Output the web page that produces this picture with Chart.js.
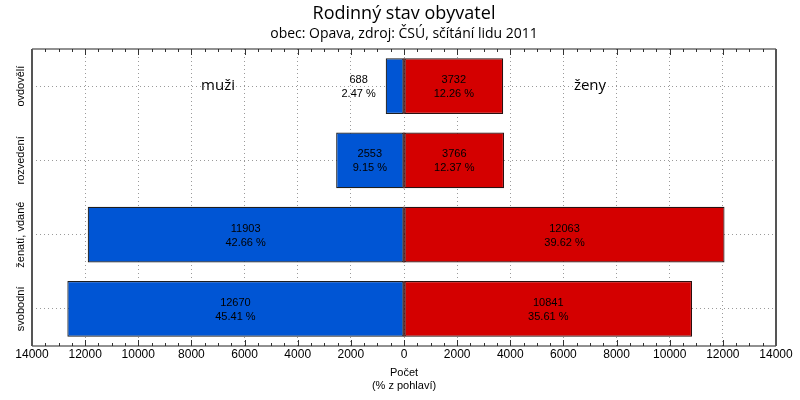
<!DOCTYPE html>
<html>
<head>
<meta charset="utf-8">
<script src="https://cdn.jsdelivr.net/npm/chart.js@4.4.0/dist/chart.umd.min.js"></script>
<style>
  body { margin: 0; background: #fff; }
  #wrap { width: 800px; height: 400px; position: relative; }
</style>
</head>
<body>
<div id="wrap"><canvas id="chart"></canvas></div>
<script>
// data
const categories = ['ovdovělí', 'rozvedení', 'ženatí, vdané', 'svobodní'];
const maleCounts = [688, 2553, 11903, 12670];
const femaleCounts = [3732, 3766, 12063, 10841];
const malePercent = ['2.47', '9.15', '42.66', '45.41'];
const femalePercent = ['12.26', '12.37', '39.62', '35.61'];
const sideLabels = ['muži', 'ženy'];
const sideLabelValues = [-7000, 7000];

const xMin = -14000, xMax = 14000, xStep = 2000, xMinorStep = 500;

const labelFont = '11px "Liberation Sans", Arial, sans-serif';

// titles, frame, inward ticks, category labels and bar values
const decorPlugin = {
    id: 'decor',
    afterDatasetsDraw(chart) {
        const { ctx, chartArea: a, scales: { x, y } } = chart;
        ctx.save();

        // dark seam where the two bars meet at zero
        const zero = x.getPixelForValue(0);
        ctx.strokeStyle = '#3a0a0a';
        ctx.lineWidth = 1.5;
        chart.getDatasetMeta(1).data.forEach(bar => {
            ctx.beginPath();
            ctx.moveTo(zero, bar.y - bar.height / 2);
            ctx.lineTo(zero, bar.y + bar.height / 2);
            ctx.stroke();
        });

        // inward tick marks on top and bottom
        ctx.strokeStyle = '#333';
        ctx.lineWidth = 1;
        for (let v = xMin; v <= xMax; v += xMinorStep) {
            const px = Math.round(x.getPixelForValue(v)) + 0.5;
            const len = v % xStep === 0 ? 6 : 3;
            ctx.beginPath();
            ctx.moveTo(px, a.bottom);
            ctx.lineTo(px, a.bottom - len);
            ctx.moveTo(px, a.top);
            ctx.lineTo(px, a.top + len);
            ctx.stroke();
        }

        // frame
        ctx.strokeStyle = '#222';
        ctx.lineWidth = 1.2;
        ctx.beginPath();
        ctx.moveTo(a.left, a.top); ctx.lineTo(a.right, a.top);
        ctx.moveTo(a.left, a.bottom); ctx.lineTo(a.right, a.bottom);
        ctx.stroke();
        ctx.strokeStyle = '#555';
        ctx.lineWidth = 2;
        ctx.beginPath();
        ctx.moveTo(a.left, a.top); ctx.lineTo(a.left, a.bottom);
        ctx.moveTo(a.right, a.top); ctx.lineTo(a.right, a.bottom);
        ctx.stroke();

        // bar value labels
        ctx.font = labelFont;
        ctx.fillStyle = '#000';
        ctx.textAlign = 'center';
        ctx.textBaseline = 'middle';
        const drawLabels = (dsIndex, counts, perc) => {
            chart.getDatasetMeta(dsIndex).data.forEach((bar, i) => {
                const l1 = String(counts[i]);
                const l2 = perc[i] + ' %';
                const w = Math.max(ctx.measureText(l1).width, ctx.measureText(l2).width);
                const barW = Math.abs(bar.x - bar.base);
                let cx = (bar.x + bar.base) / 2;
                if (barW < w + 8) {
                    cx = bar.x < bar.base ? bar.x - 10 - w / 2 : bar.x + 10 + w / 2;
                }
                ctx.fillText(l1, cx, bar.y - 6);
                ctx.fillText(l2, cx, bar.y + 8);
            });
        };
        drawLabels(0, maleCounts, malePercent);
        drawLabels(1, femaleCounts, femalePercent);

        // side labels
        ctx.font = '15px "Open Sans", sans-serif';
        sideLabels.forEach((t, i) => {
            ctx.fillText(t, x.getPixelForValue(sideLabelValues[i]), y.getPixelForValue(0));
        });

        // category labels, rotated
        ctx.font = labelFont;
        categories.forEach((c, i) => {
            ctx.save();
            ctx.translate(21, y.getPixelForValue(i));
            ctx.rotate(-Math.PI / 2);
            ctx.fillText(c, 0, 0);
            ctx.restore();
        });

        // titles
        const cx = (a.left + a.right) / 2;
        ctx.font = '18px "Open Sans", sans-serif';
        ctx.fillText('Rodinný stav obyvatel', cx, 14);
        ctx.font = '14px "Open Sans", sans-serif';
        ctx.fillText('obec: Opava, zdroj: ČSÚ, sčítání lidu 2011', cx, 34);

        ctx.restore();
    }
};

new Chart(document.getElementById('chart'), {
    type: 'bar',
    data: {
        labels: categories,
        datasets: [{
            label: 'muži',
            data: maleCounts.map(v => -v),
            backgroundColor: '#0055d4',
            borderColor: '#1e1e1e',
            borderWidth: 1.2,
            borderSkipped: false
        }, {
            label: 'ženy',
            data: femaleCounts,
            backgroundColor: '#d40000',
            borderColor: '#2a1010',
            borderWidth: 1.2,
            borderSkipped: false
        }]
    },
    options: {
        indexAxis: 'y',
        responsive: true,
        maintainAspectRatio: false,
        animation: false,
        layout: { padding: { top: 49, right: 24, left: 0, bottom: 0 } },
        plugins: {
            legend: { display: false },
            tooltip: { enabled: false }
        },
        datasets: {
            bar: { barPercentage: 0.75, categoryPercentage: 1 }
        },
        scales: {
            x: {
                stacked: true,
                min: xMin,
                max: xMax,
                grid: { color: '#9a9a9a', drawTicks: false },
                border: { display: false, dash: [1, 3] },
                ticks: {
                    stepSize: xStep,
                    padding: 1,
                    color: '#000',
                    font: { family: '"Liberation Sans", Arial, sans-serif', size: 12 },
                    maxRotation: 0,
                    callback: v => Math.abs(v)
                },
                title: {
                    display: true,
                    text: ['Počet', '(% z pohlaví)'],
                    color: '#000',
                    font: { family: '"Liberation Sans", Arial, sans-serif', size: 11, lineHeight: 1.2 },
                    padding: { top: 0, bottom: 7 }
                },
                afterFit: s => { s.height = 54; }
            },
            y: {
                stacked: true,
                grid: { color: '#9a9a9a', drawTicks: false, offset: false },
                border: { display: false, dash: [1, 3] },
                ticks: { display: false },
                afterFit: s => { s.width = 32; }
            }
        }
    },
    plugins: [decorPlugin]
});
</script>
</body>
</html>
